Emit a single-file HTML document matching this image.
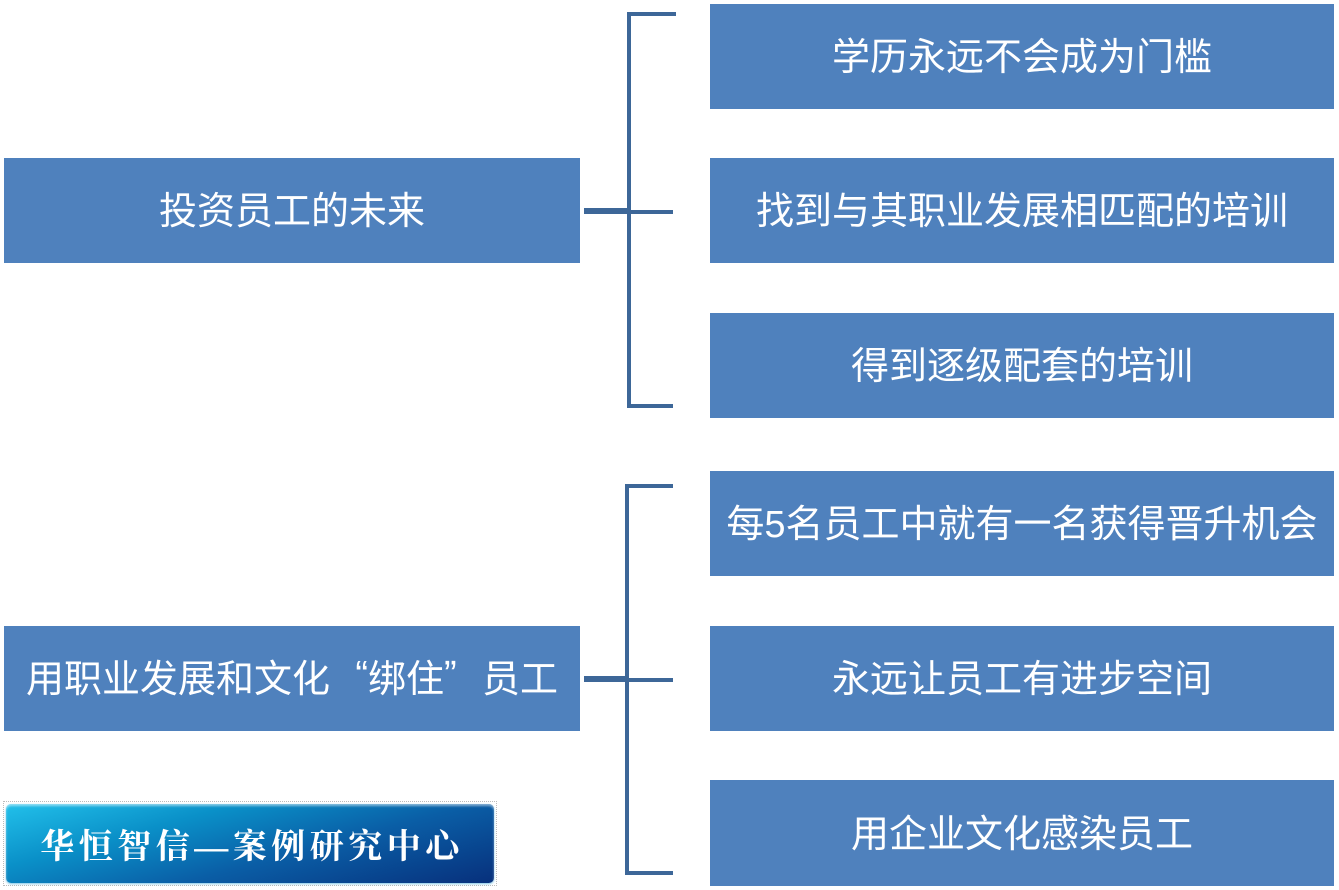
<!DOCTYPE html>
<html><head><meta charset="utf-8">
<style>
html,body{margin:0;padding:0;background:#fff;}
body{width:1339px;height:890px;position:relative;overflow:hidden;}
.b{position:absolute;background:#4f81bd;color:#fff;display:flex;align-items:center;justify-content:center;
font-family:"Liberation Sans","Noto Sans CJK SC",sans-serif;font-size:38px;white-space:nowrap;box-sizing:border-box;padding-bottom:6px;}
.r{left:710px;width:624px;}
.l{left:4px;width:576px;}
.ln{position:absolute;background:#3d6798;}
.q{display:inline-block;width:38px;}
.logo{position:absolute;left:3px;top:801px;width:492px;height:83px;border:1px dotted #bbb;}
.btn{position:absolute;left:2px;top:2px;width:488px;height:79px;border-radius:5px;
background:linear-gradient(165deg,#22c0ea 0%,#0a90c8 30%,#0a5ea6 60%,#07307c 100%);
box-shadow:inset 0 2px 2px rgba(255,255,255,0.5),0 1px 2px #7cc6e6;
display:flex;align-items:center;justify-content:center;color:#fff;
font-family:"Liberation Serif","Noto Serif CJK SC",serif;font-size:34px;font-weight:bold;letter-spacing:4.5px;white-space:nowrap;box-sizing:border-box;padding-left:4px;}
</style></head><body>

<div class="b l" style="top:158px;height:105px;">投资员工的未来</div>
<div class="b l" style="top:626px;height:105px;">用职业发展和文化<span class="q" style="text-align:right">“</span>绑住<span class="q" style="text-align:left">”</span>员工</div>

<div class="b r" style="top:4px;height:105px;">学历永远不会成为门槛</div>
<div class="b r" style="top:158px;height:105px;">找到与其职业发展相匹配的培训</div>
<div class="b r" style="top:313px;height:105px;">得到逐级配套的培训</div>
<div class="b r" style="top:471px;height:105px;">每5名员工中就有一名获得晋升机会</div>
<div class="b r" style="top:626px;height:105px;">永远让员工有进步空间</div>
<div class="b r" style="top:780px;height:106px;">用企业文化感染员工</div>

<!-- bracket 1 -->
<div class="ln" style="left:627px;top:12px;width:4px;height:396px;"></div>
<div class="ln" style="left:627px;top:12px;width:49px;height:4px;"></div>
<div class="ln" style="left:584px;top:208px;width:45px;height:6px;"></div>
<div class="ln" style="left:627px;top:210px;width:46px;height:4px;"></div>
<div class="ln" style="left:627px;top:404px;width:46px;height:4px;"></div>

<!-- bracket 2 -->
<div class="ln" style="left:625px;top:484px;width:4px;height:391px;"></div>
<div class="ln" style="left:625px;top:484px;width:48px;height:4px;"></div>
<div class="ln" style="left:584px;top:676px;width:43px;height:6px;"></div>
<div class="ln" style="left:625px;top:678px;width:48px;height:4px;"></div>
<div class="ln" style="left:625px;top:871px;width:48px;height:4px;"></div>

<div class="logo"><div class="btn">华恒智信—案例研究中心</div></div>

</body></html>
